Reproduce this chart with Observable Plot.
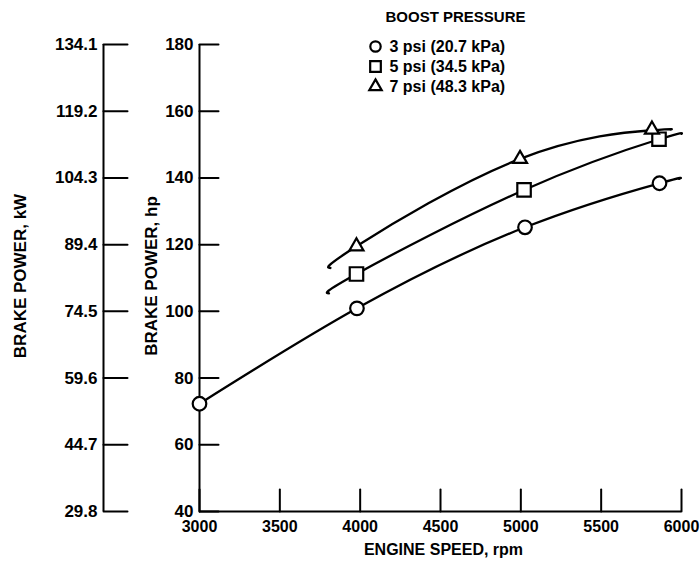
<!DOCTYPE html>
<html><head><meta charset="utf-8">
<script src="https://cdn.jsdelivr.net/npm/d3@7"></script>
<script src="https://cdn.jsdelivr.net/npm/@observablehq/plot@0.6"></script>
<style>body{margin:0;background:#fff}</style>
</head><body><div id="chart"></div>
<script>
// ---- data ----
const seriesNames = ["3 psi", "5 psi", "7 psi"];
const legendTitle = "BOOST PRESSURE";
const legendLabels = ["3 psi (20.7 kPa)", "5 psi (34.5 kPa)", "7 psi (48.3 kPa)"];
const seriesSymbols = ["circle", "square", "triangle"];

// measured points (engine speed rpm, brake power hp)
const speed3 = [3000, 3980, 5026, 5863];
const power3 = [72.3, 100.9, 125.2, 138.4];
const speed5 = [3977, 5020, 5860];
const power5 = [111.2, 136.4, 151.6];
const speed7 = [3977, 4995, 5816];
const power7 = [119.5, 145.7, 154.5];

// faired curves
const curve3x = [3000, 3980, 5026, 5863, 5985];
const curve3y = [72.3, 100.9, 125.2, 138.4, 139.7];
const curve5x = [3806, 3977, 5020, 5860, 6000];
const curve5y = [105.4, 111.2, 136.4, 151.6, 153.2];
const curve7x = [3815, 3977, 4995, 5816, 5930];
const curve7y = [113.0, 119.5, 145.7, 154.3, 154.5];

const xTicks = [3000, 3500, 4000, 4500, 5000, 5500, 6000];
const hpTicks = [40, 60, 80, 100, 120, 140, 160, 180];
const kwLabels = ["29.8", "44.7", "59.6", "74.5", "89.4", "104.3", "119.2", "134.1"];

const xLabel = "ENGINE SPEED, rpm";
const hpLabel = "BRAKE POWER, hp";
const kwLabel = "BRAKE POWER, kW";

// ---- build ----
const pts = [];
[[speed3, power3], [speed5, power5], [speed7, power7]].forEach(([xs, ys], k) =>
  xs.forEach((x, i) => pts.push({series: seriesNames[k], speed: x, power: ys[i]})));
const curves = [];
[[curve3x, curve3y], [curve5x, curve5y], [curve7x, curve7y]].forEach(([xs, ys], k) =>
  xs.forEach((x, i) => curves.push({series: seriesNames[k], speed: x, power: ys[i]})));

const FONT = '"Liberation Sans", Arial, sans-serif';
const tickRight = {draw(ctx, l) { ctx.moveTo(0, 0); ctx.lineTo(l, 0); }};
const tickUp = {draw(ctx, l) { ctx.moveTo(0, 0); ctx.lineTo(0, -l); }};
const symR = {circle: 6.8, square: 7.6, triangle: 5.2};
const legR = {circle: 5.2, square: 6.0, triangle: 4.6};

const legendMarks = [];
seriesSymbols.forEach((s, i) => {
  legendMarks.push(Plot.dot([s], {frameAnchor: "top-left", dx: 176, dy: 2 + i * 20, symbol: d => d,
    r: legR[s], stroke: "black", strokeWidth: 2.2, fill: "white"}));
  legendMarks.push(Plot.text([legendLabels[i]], {frameAnchor: "top-left", dx: 190, dy: 2 + i * 20,
    text: d => d, textAnchor: "start", lineAnchor: "middle", fontSize: 16, fontWeight: "bold"}));
});

const chart = Plot.plot({
  width: 700,
  height: 565,
  marginLeft: 199,
  marginRight: 19,
  marginTop: 44,
  marginBottom: 54,
  style: {fontFamily: FONT, fontWeight: "bold", color: "black", background: "white"},
  x: {domain: [3000, 6000]},
  y: {domain: [40, 180]},
  symbol: {domain: seriesNames, range: seriesSymbols},
  marks: [
    // axes lines
    Plot.ruleX([3000], {stroke: "black", strokeWidth: 2}),
    Plot.ruleX([3000], {stroke: "black", strokeWidth: 2, dx: -96}),
    Plot.ruleY([40], {stroke: "black", strokeWidth: 2}),
    // ticks
    Plot.vector(hpTicks, {y: d => d, frameAnchor: "left", length: 19, shape: tickRight, anchor: "start", stroke: "black", strokeWidth: 2}),
    Plot.vector(hpTicks, {y: d => d, frameAnchor: "left", dx: -96, length: 24, shape: tickRight, anchor: "start", stroke: "black", strokeWidth: 2}),
    Plot.vector(xTicks, {x: d => d, frameAnchor: "bottom", length: 22, shape: tickUp, anchor: "start", stroke: "black", strokeWidth: 2}),
    // tick labels
    Plot.axisY({ticks: hpTicks, tickSize: 0, tickPadding: 6, label: null, fontSize: 17}),
    Plot.axisY({ticks: hpTicks, tickFormat: d => kwLabels[hpTicks.indexOf(d)], tickSize: 0, tickPadding: 6, dx: -96, label: null, fontSize: 17}),
    Plot.axisX({ticks: xTicks, tickSize: 0, tickPadding: 9, label: null, fontSize: 16, tickFormat: d => String(d)}),
    // axis titles
    Plot.text([xLabel], {frameAnchor: "bottom", dx: 3, dy: 38, text: d => d, textAnchor: "middle", lineAnchor: "middle", fontSize: 16, fontWeight: "bold"}),
    Plot.text([hpLabel], {frameAnchor: "left", dx: -48, dy: -2, rotate: -90, text: d => d, textAnchor: "middle", lineAnchor: "middle", fontSize: 17, fontWeight: "bold"}),
    Plot.text([kwLabel], {frameAnchor: "left", dx: -179, dy: -2, rotate: -90, text: d => d, textAnchor: "middle", lineAnchor: "middle", fontSize: 17, fontWeight: "bold"}),
    // curves
    Plot.line(curves, {x: "speed", y: "power", z: "series", curve: "natural", stroke: "black", strokeWidth: 2.3}),
    // points
    ...seriesNames.map((n, k) => Plot.dot(pts.filter(d => d.series === n), {x: "speed", y: "power", symbol: "series",
      r: symR[seriesSymbols[k]], stroke: "black", strokeWidth: 2.2, fill: "white"})),
    // legend
    Plot.text([legendTitle], {frameAnchor: "top-left", dx: 256, dy: -27, text: d => d, textAnchor: "middle", lineAnchor: "middle", fontSize: 15, fontWeight: "bold"}),
    ...legendMarks
  ]
});
document.getElementById("chart").appendChild(chart);
</script>
</body></html>
